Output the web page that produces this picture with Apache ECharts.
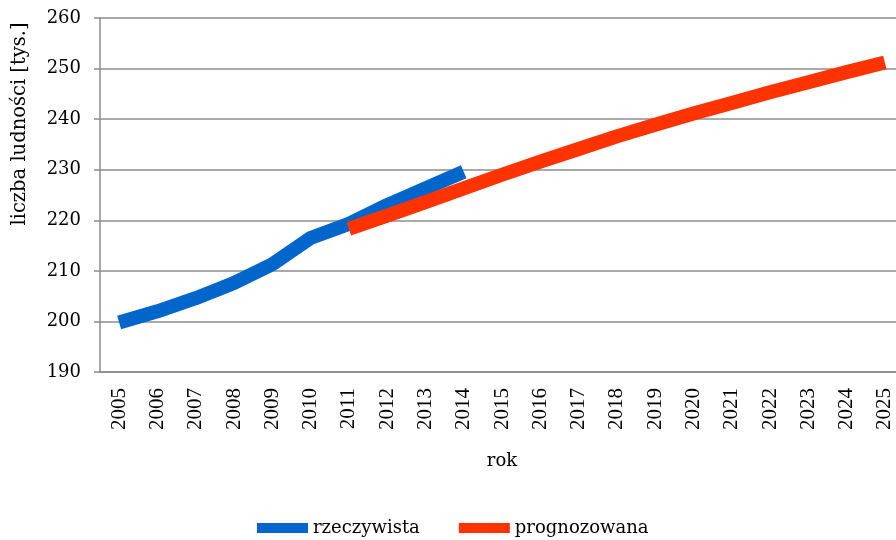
<!DOCTYPE html>
<html>
<head>
<meta charset="utf-8">
<script src="https://cdn.jsdelivr.net/npm/echarts@6/dist/echarts.min.js"></script>
<style>
    html, body { margin: 0; padding: 0; background: #fff; }
    #chart { width: 896px; height: 540px; }
</style>
</head>
<body>
<div id="chart"></div>
<script>
    // lata 2005-2025
    var years = ['2005', '2006', '2007', '2008', '2009', '2010', '2011', '2012', '2013', '2014', '2015',
                 '2016', '2017', '2018', '2019', '2020', '2021', '2022', '2023', '2024', '2025'];
    // liczba ludności [tys.]
    var rzeczywista = [199.8, 202.0, 204.6, 207.6, 211.3, 216.5, 219.3, 223.0, 226.3, 229.6,
                       null, null, null, null, null, null, null, null, null, null, null];
    var prognozowana = [null, null, null, null, null, null, 218.3, 220.9, 223.6, 226.3, 229.0,
                        231.6, 234.1, 236.6, 238.9, 241.1, 243.2, 245.3, 247.3, 249.3, 251.2];

    var font = 'DejaVu Serif';
    var gridColor = '#8c8c8c';

    var chart = echarts.init(document.getElementById('chart'));
    chart.setOption({
        animation: false,
        grid: {
            left: 100,
            width: 804,
            top: 18,
            bottom: 168,
            outerBoundsMode: 'none'
        },
        legend: {
            top: 514,
            left: 252,
            icon: 'rect',
            itemWidth: 51,
            itemHeight: 10,
            itemGap: 39,
            textStyle: { fontFamily: font, fontSize: 18, color: '#000' },
            data: ['rzeczywista', 'prognozowana']
        },
        xAxis: {
            type: 'category',
            data: years,
            boundaryGap: true,
            name: 'rok',
            nameLocation: 'middle',
            nameGap: 80,
            nameTextStyle: { fontFamily: font, fontSize: 18, color: '#000' },
            axisLine: { lineStyle: { color: gridColor, width: 1.5 } },
            axisTick: { length: 6, lineStyle: { color: gridColor, width: 1.5 } },
            axisLabel: {
                rotate: 90,
                margin: 16,
                interval: 0,
                fontFamily: 'Liberation Serif',
                fontSize: 21,
                color: '#000'
            }
        },
        yAxis: {
            type: 'value',
            min: 190,
            max: 260,
            interval: 10,
            name: 'liczba ludności [tys.]',
            nameLocation: 'middle',
            nameRotate: 90,
            nameGap: 70,
            nameTextStyle: { fontFamily: font, fontSize: 19.5, color: '#000', padding: [0, 0, 0, 142] },
            axisLine: { show: true, lineStyle: { color: gridColor, width: 1.5 } },
            axisTick: { show: true, length: 6, lineStyle: { color: gridColor, width: 1.5 } },
            axisLabel: { margin: 19, fontFamily: font, fontSize: 18, color: '#000' },
            splitLine: { lineStyle: { color: gridColor, width: 1.5 } }
        },
        series: [
            {
                name: 'rzeczywista',
                type: 'line',
                data: rzeczywista,
                showSymbol: false,
                itemStyle: { color: '#0066cc' },
                lineStyle: { color: '#0066cc', width: 14, cap: 'butt', join: 'round' }
            },
            {
                name: 'prognozowana',
                type: 'line',
                data: prognozowana,
                showSymbol: false,
                itemStyle: { color: '#ff3300' },
                lineStyle: { color: '#ff3300', width: 14, cap: 'butt', join: 'round' }
            }
        ]
    });
</script>
</body>
</html>
